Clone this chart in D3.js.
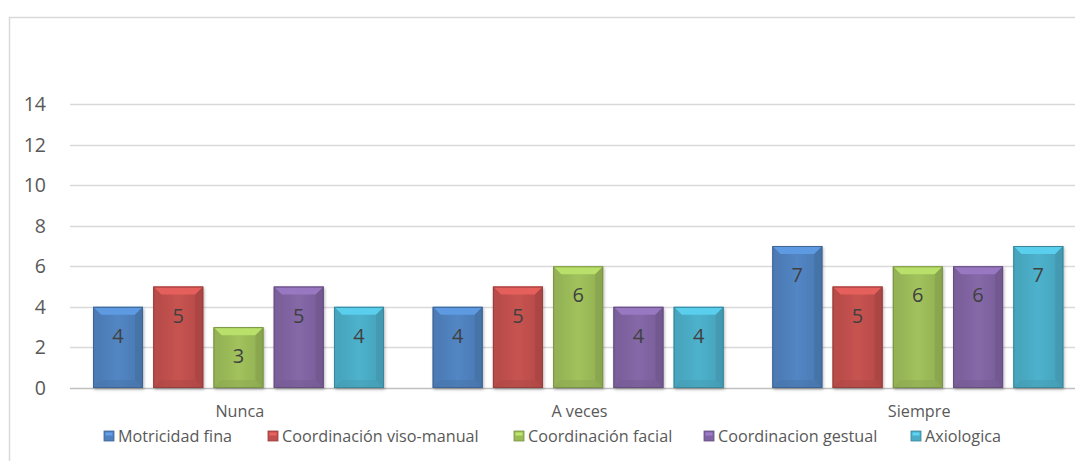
<!DOCTYPE html>
<html>
<head>
<meta charset="utf-8">
<script src="https://cdn.jsdelivr.net/npm/d3@7"></script>
<style>
  html, body { margin: 0; padding: 0; background: #fff; }
  svg { display: block; font-family: "Open Sans", Lato, sans-serif; }
</style>
</head>
<body>
<svg id="chart" width="1075" height="461"></svg>
<script>
// ── Data ────────────────────────────────────────────────────────────────
const categories = ['Nunca', 'A veces', 'Siempre'];
const seriesNames = ['Motricidad fina', 'Coordinación viso-manual', 'Coordinación facial', 'Coordinacion gestual', 'Axiologica'];
const seriesColors = ['#4F81BD', '#C0504D', '#9BBB59', '#8064A2', '#4BACC6'];
const values = [
  [4, 4, 7],   // Motricidad fina
  [5, 5, 5],   // Coordinación viso-manual
  [3, 6, 6],   // Coordinación facial
  [5, 4, 6],   // Coordinacion gestual
  [4, 4, 7]    // Axiologica
];
const yTicks = [0, 2, 4, 6, 8, 10, 12, 14];

// ── Layout ──────────────────────────────────────────────────────────────
const svg = d3.select('#chart');
const plot = { left: 70, right: 1089, top: 104, bottom: 388 };

// outer chart border (cropped on right/bottom)
svg.append('rect').attr('x', 9.5).attr('y', 17.5).attr('width', 1100).attr('height', 500)
  .attr('fill', 'none').attr('stroke', '#d9d9d9').attr('stroke-width', 1.5);

const y = d3.scaleLinear().domain([0, 14]).range([plot.bottom, plot.top]);
const x0 = d3.scaleBand().domain(categories).range([plot.left, plot.right]);
const x1 = d3.scaleBand().domain(seriesNames).range([23, 314]).paddingInner(0.17);

// gridlines
svg.append('g').selectAll('line').data(yTicks).join('line')
  .attr('x1', plot.left).attr('x2', 1075)
  .attr('y1', d => Math.round(y(d)) + 0.5).attr('y2', d => Math.round(y(d)) + 0.5)
  .attr('stroke', d => d === 0 ? '#bfbfbf' : '#d9d9d9').attr('stroke-width', 1.3);

// y axis labels
svg.append('g').selectAll('text').data(yTicks).join('text')
  .attr('x', 46).attr('y', d => y(d)).attr('dy', '0.36em')
  .attr('text-anchor', 'end').attr('font-size', 19.5).attr('fill', '#595959')
  .text(d => d);

// category labels
svg.append('g').selectAll('text').data(categories).join('text')
  .attr('x', d => x0(d) + x0.bandwidth() / 2).attr('y', 411).attr('dy', '0.35em')
  .attr('text-anchor', 'middle').attr('font-size', 16.2).attr('fill', '#595959')
  .text(d => d);

// ── Bars with bevel ─────────────────────────────────────────────────────
const defs = svg.append('defs');
seriesColors.forEach((c, i) => {
  const g = defs.append('linearGradient').attr('id', 'g' + i).attr('x1', 0).attr('x2', 1).attr('y1', 0).attr('y2', 0);
  g.append('stop').attr('offset', 0).attr('stop-color', d3.color(c).darker(0.2));
  g.append('stop').attr('offset', 0.5).attr('stop-color', d3.color(c).brighter(0.1));
  g.append('stop').attr('offset', 1).attr('stop-color', d3.color(c).darker(0.2));
});
const shadow = defs.append('filter').attr('id', 'sh').attr('x', '-20%').attr('y', '-20%').attr('width', '140%').attr('height', '140%');
shadow.append('feDropShadow').attr('dx', 1).attr('dy', 1.5).attr('stdDeviation', 1.5).attr('flood-color', '#000').attr('flood-opacity', 0.3);

const bars = [];
seriesNames.forEach((s, si) => {
  categories.forEach((c, ci) => {
    bars.push({ s, si, c, v: values[si][ci] });
  });
});

const bev = 8;
const barG = svg.append('g').selectAll('g').data(bars).join('g')
  .attr('transform', d => `translate(${x0(d.c) + x1(d.s)},0)`);

barG.each(function(d) {
  const g = d3.select(this);
  const w = x1.bandwidth();
  const top = y(d.v), bot = y(0);
  const col = seriesColors[d.si];
  g.append('rect').attr('x', 0).attr('y', top).attr('width', w).attr('height', bot - top)
    .attr('fill', `url(#g${d.si})`).attr('filter', 'url(#sh)');
  // top facet
  g.append('path').attr('d', `M0,${top}L${w},${top}L${w - bev},${top + bev}L${bev},${top + bev}Z`)
    .attr('fill', d3.color(col).brighter(0.5));
  // left facet
  g.append('path').attr('d', `M0,${top}L${bev},${top + bev}L${bev},${bot - bev}L0,${bot}Z`)
    .attr('fill', d3.color(col).darker(0.1)).attr('opacity', 0.6);
  // right facet
  g.append('path').attr('d', `M${w},${top}L${w - bev},${top + bev}L${w - bev},${bot - bev}L${w},${bot}Z`)
    .attr('fill', d3.color(col).darker(0.4)).attr('opacity', 0.7);
  // bottom facet
  g.append('path').attr('d', `M0,${bot}L${bev},${bot - bev}L${w - bev},${bot - bev}L${w},${bot}Z`)
    .attr('fill', d3.color(col).darker(0.3)).attr('opacity', 0.5);
  // outline
  g.append('rect').attr('x', 0.5).attr('y', top + 0.5).attr('width', w - 1).attr('height', bot - top - 1)
    .attr('fill', 'none').attr('stroke', d3.color(col).darker(0.7)).attr('stroke-width', 1);
  // value label
  g.append('text').attr('x', w / 2).attr('y', top + 29).attr('dy', '0.35em')
    .attr('text-anchor', 'middle').attr('font-size', 20).attr('fill', '#404040')
    .text(d.v);
});

// ── Legend ──────────────────────────────────────────────────────────────
const legendX = [104, 268, 514, 704, 911];
const leg = svg.append('g').selectAll('g').data(seriesNames).join('g')
  .attr('transform', (d, i) => `translate(${legendX[i]},436)`);
leg.append('rect').attr('x', 0).attr('y', -5).attr('width', 10).attr('height', 10)
  .attr('fill', (d, i) => seriesColors[i]).attr('stroke', (d, i) => d3.color(seriesColors[i]).darker(0.7)).attr('stroke-width', 0.8);
leg.append('rect').attr('x', 1.5).attr('y', -3.5).attr('width', 7).attr('height', 3)
  .attr('fill', (d, i) => d3.color(seriesColors[i]).brighter(0.6));
leg.append('text').attr('x', 14).attr('y', 0).attr('dy', '0.35em')
  .attr('font-size', 16.2).attr('fill', '#595959').text(d => d);
</script>
</body>
</html>
